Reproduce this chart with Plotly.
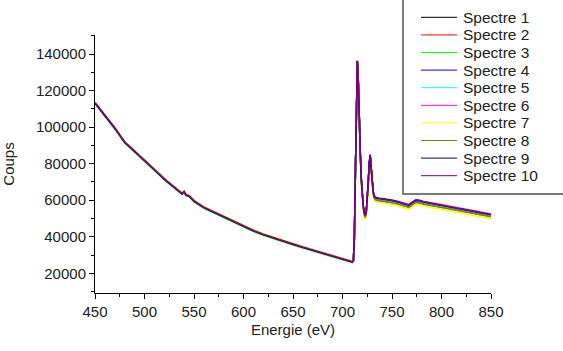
import plotly.graph_objects as go

# ---- data ----
energy = [450, 460, 470, 480, 487, 490, 500, 510, 520, 530, 535, 538, 540, 542, 545, 548,
          550, 560, 570, 580, 590, 600, 610, 620, 630, 640, 650, 660, 670, 680, 690,
          700, 705, 708, 710, 711,
          712, 713, 714, 715, 716, 717, 718, 719, 720, 721, 722, 723, 724, 725, 726,
          727, 728, 729, 730, 731, 732, 734, 737, 740, 745, 750, 755, 760, 764, 767,
          770, 774, 778, 782, 788, 795, 800, 805, 810, 815, 820, 825, 830, 835, 840,
          845, 850]
counts_base = [113300, 106300, 99500, 91800, 88400, 86700, 82000, 76800, 71600, 67000, 65200,
               63600, 64700, 62900, 62400, 60500,
               59600, 56100, 53600, 50900, 48300, 45700, 43400, 41300, 39400, 37600,
               36000, 34300, 32700, 31100, 29600,
               28300, 27400, 26600, 26300, 27000,
               40000, 75000, 115000, 136500, 125000, 100000, 86000, 72000, 63000, 57000,
               53500, 52000, 54000, 60000, 70000,
               80500, 85000, 78000, 70000, 65000, 62500, 61500, 61200, 61000, 60600,
               60100, 59500, 58700, 57800, 57600,
               58800, 60200, 60000, 59300, 58700, 58000, 57400, 56900, 56400, 56000,
               55400, 54900, 54300, 53800, 53400,
               52900, 52400]
edge_energy = 712
names = ["Spectre 1", "Spectre 2", "Spectre 3", "Spectre 4", "Spectre 5",
         "Spectre 6", "Spectre 7", "Spectre 8", "Spectre 9", "Spectre 10"]
pre_edge_shift = [0, 200, -500, 100, 250, 150, 300, -200, -100, 0]
post_edge_shift = [-1200, -1000, -900, -400, -600, 0, -2500, -1500, -300, -200]
colors = ["#000000", "#ff0000", "#00ff00", "#0000ff", "#00ffff",
          "#ff00ff", "#ffff00", "#808000", "#000080", "#800080"]
y_ticks = [20000, 40000, 60000, 80000, 100000, 120000, 140000]
x_ticks = [450, 500, 550, 600, 650, 700, 750, 800, 850]

FONT = "Arial, Liberation Sans, sans-serif"
TXT = "#222222"

fig = go.Figure()
for name, pre, post, col in zip(names, pre_edge_shift, post_edge_shift, colors):
    ys = [c + (post if e >= edge_energy else pre) for e, c in zip(energy, counts_base)]
    fig.add_trace(go.Scatter(x=energy, y=ys, mode="lines", name=name,
                             line=dict(color=col, width=1.5), showlegend=False))

W, H = 563, 351
L, R, T, B = 95, 72, 35, 58
pw, ph = W - L - R, H - T - B

def px_x(p):
    return (p - L) / pw

def px_y(p):
    return (H - B - p) / ph

# legend drawn as a framed key (line samples + text labels)
shapes = [dict(type="rect", xref="paper", yref="paper",
               x0=px_x(403), x1=px_x(580), y0=px_y(194), y1=px_y(-10),
               line=dict(color="#7a7a7a", width=2), fillcolor="rgba(0,0,0,0)",
               layer="below")]
annotations = []
row0, row_step = 17.3, 17.6
for i, (name, col) in enumerate(zip(names, colors)):
    yy = px_y(row0 + i * row_step)
    shapes.append(dict(type="line", xref="paper", yref="paper",
                       x0=px_x(421), x1=px_x(457), y0=yy, y1=yy,
                       line=dict(color=col, width=1)))
    annotations.append(dict(xref="paper", yref="paper", x=px_x(461), y=yy,
                            xanchor="left", yanchor="middle", showarrow=False,
                            text=name, font=dict(family=FONT, size=15.5, color=TXT)))

fig.update_layout(
    width=W, height=H,
    margin=dict(l=L, r=R, t=T, b=B, autoexpand=False),
    paper_bgcolor="white", plot_bgcolor="white",
    font=dict(family=FONT, size=14, color=TXT),
    showlegend=False,
    xaxis=dict(range=[450, 850], tickvals=x_ticks, showgrid=False, zeroline=False,
               showline=True, linecolor="black", linewidth=1,
               ticks="outside", ticklen=5, tickcolor="black",
               minor=dict(dtick=25, ticks="outside", ticklen=3, tickcolor="black"),
               tickfont=dict(size=15, color=TXT),
               title=dict(text="Energie (eV)", font=dict(size=15, color=TXT), standoff=5)),
    yaxis=dict(range=[9220, 150400], tickvals=y_ticks, tickformat="d",
               showgrid=False, zeroline=False,
               showline=True, linecolor="black", linewidth=1,
               ticks="outside", ticklen=5, tickcolor="black",
               minor=dict(dtick=10000, tick0=0, ticks="outside", ticklen=3, tickcolor="black"),
               tickfont=dict(size=15, color=TXT),
               title=dict(text="Coups", font=dict(size=15, color=TXT), standoff=18)),
    shapes=shapes,
    annotations=annotations,
)

fig.write_html("out.html")
